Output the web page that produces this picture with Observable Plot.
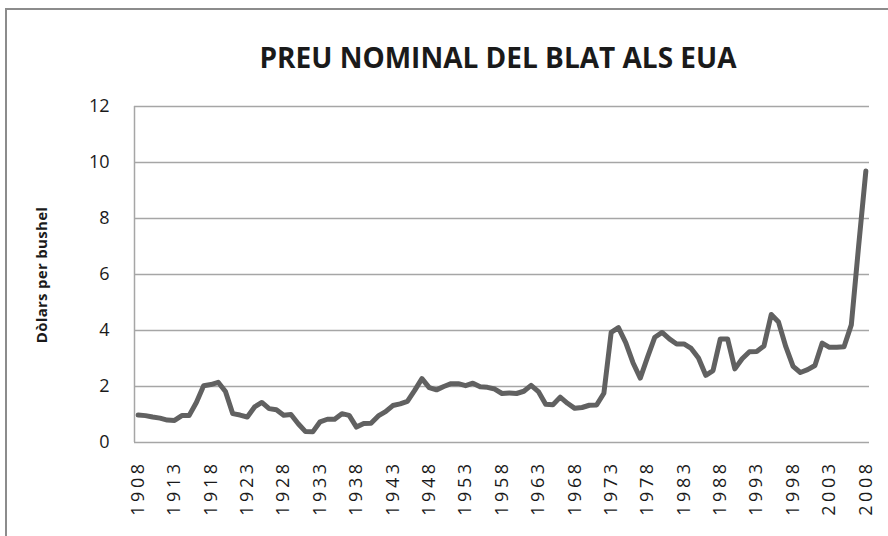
<!DOCTYPE html>
<html>
<head>
<meta charset="utf-8">
<script src="https://cdn.jsdelivr.net/npm/d3@7"></script>
<script src="https://cdn.jsdelivr.net/npm/@observablehq/plot@0.6"></script>
<style>
  html, body { margin: 0; padding: 0; background: #fff; }
  #wrap { position: relative; width: 888px; height: 536px; overflow: hidden; }
  #frame { position: absolute; left: 5px; top: 8px; width: 900px; height: 600px;
           border: 2px solid #8c8c8c; box-sizing: border-box; }
  #title { position: absolute; left: 0; top: 38px; width: 888px; padding-left: 108px; box-sizing: border-box;
           text-align: center; font-family: "Open Sans", sans-serif; font-weight: 700;
           font-size: 28px; line-height: normal; color: #1a1a1a; }
  #ylabel { position: absolute; left: 41px; top: 275px; transform: translate(-50%, -50%) rotate(-90deg);
            font-family: "Open Sans", sans-serif; font-weight: 700; font-size: 15px; color: #1a1a1a;
            letter-spacing: 0.3px; white-space: nowrap; }
  #chart { position: absolute; left: 0; top: 90px; }
</style>
</head>
<body>
<div id="wrap">
  <div id="frame"></div>
  <div id="title">PREU NOMINAL DEL BLAT ALS EUA</div>
  <div id="ylabel">Dòlars per bushel</div>
  <div id="chart"></div>
</div>
<script>
const years = d3.range(1908, 2009);
const prices = [
  0.98, 0.96, 0.91, 0.87, 0.80, 0.79, 0.96, 0.96, 1.43, 2.03,
  2.07, 2.15, 1.82, 1.03, 0.98, 0.91, 1.27, 1.43, 1.21, 1.17,
  0.97, 1.00, 0.67, 0.39, 0.38, 0.74, 0.83, 0.83, 1.03, 0.97,
  0.55, 0.68, 0.69, 0.95, 1.10, 1.32, 1.38, 1.47, 1.86, 2.28,
  1.96, 1.88, 2.00, 2.10, 2.10, 2.03, 2.12, 1.99, 1.97, 1.91,
  1.75, 1.77, 1.75, 1.83, 2.04, 1.82, 1.37, 1.35, 1.62, 1.40,
  1.22, 1.25, 1.33, 1.34, 1.76, 3.93, 4.10, 3.57, 2.85, 2.30,
  3.05, 3.76, 3.93, 3.70, 3.52, 3.52, 3.36, 3.02, 2.40, 2.57,
  3.70, 3.70, 2.63, 2.99, 3.24, 3.25, 3.45, 4.57, 4.30, 3.42,
  2.72, 2.50, 2.60, 2.75, 3.55, 3.40, 3.40, 3.42, 4.20, 7.00,
  9.70
];
const xTicks = d3.range(1908, 2009, 5);
const yTicks = [0, 2, 4, 6, 8, 10, 12];

const data = years.map((year, i) => ({year, price: prices[i]}));

const chart = Plot.plot({
  width: 888,
  height: 446,
  marginTop: 16,
  marginBottom: 94,
  marginLeft: 134,
  marginRight: 19,
  style: {fontFamily: "Open Sans, sans-serif", color: "#1a1a1a", background: "transparent"},
  x: {domain: [1907.5, 2008.5]},
  y: {domain: [0, 12]},
  marks: [
    Plot.ruleY(yTicks, {stroke: "#a6a6a6", strokeWidth: 1.5}),
    Plot.ruleX([1907.5], {stroke: "#a6a6a6", strokeWidth: 1.5}),
    Plot.axisY({ticks: yTicks, tickSize: 0, tickPadding: 25, fontSize: 18, label: null}),
    Plot.axisX({ticks: xTicks, tickSize: 0, tickPadding: 18, tickRotate: -90, fontSize: 18,
                tickFormat: d => String(d), label: null, className: "xt"}),
    Plot.line(data, {x: "year", y: "price", stroke: "#616161", strokeWidth: 5,
                     strokeLinejoin: "round", strokeLinecap: "round"})
  ]
});
d3.select(chart).selectAll("g[aria-label='x-axis tick label'] text").attr("letter-spacing", "3.5px");
document.getElementById("chart").appendChild(chart);
</script>
</body>
</html>
